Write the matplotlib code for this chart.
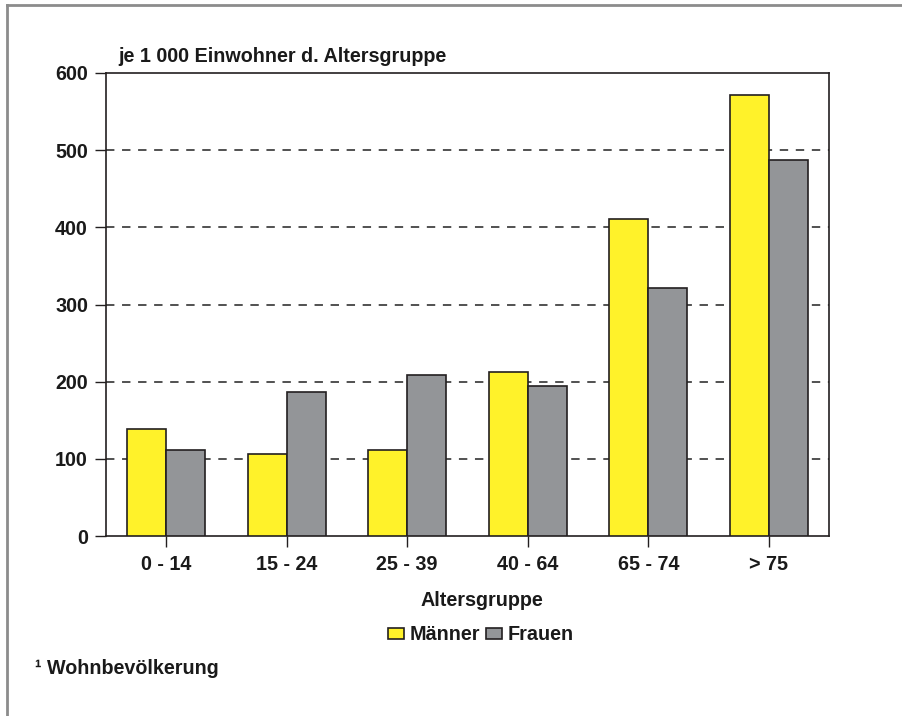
import numpy as np
import matplotlib
matplotlib.use('Agg')
import matplotlib.pyplot as plt
from matplotlib.patches import Patch
from matplotlib.lines import Line2D

plt.rcParams['font.family'] = ['Liberation Sans', 'DejaVu Sans']
plt.rcParams['font.weight'] = 'bold'

# data
groups = ['0 - 14', '15 - 24', '25 - 39', '40 - 64', '65 - 74', '> 75']
maenner = [139, 106, 112, 213, 411, 572]
frauen = [112, 187, 208, 195, 321, 487]
yticks = [0, 100, 200, 300, 400, 500, 600]

yellow = '#fff22a'
grey = '#939598'
edge = '#231f20'
txt = '#1a1a1a'
fs = 14.2

fig = plt.figure(figsize=(9.02, 7.16), dpi=100)
ax = fig.add_axes([106/902, 1 - 536/716, (829 - 106)/902, (536 - 73)/716])

x = np.arange(len(groups))
w = 0.325
ax.bar(x - w/2, maenner, w, color=yellow, edgecolor=edge, linewidth=1.2, zorder=3)
ax.bar(x + w/2, frauen, w, color=grey, edgecolor=edge, linewidth=1.2, zorder=3)

# dashed grid
for v in yticks[1:-1]:
    ax.axhline(v, color='#222222', lw=1.1, dashes=(5.5, 5), zorder=1)

ax.set_xlim(-0.5, len(groups) - 0.5)
ax.set_ylim(0, 600)
ax.set_yticks(yticks)
ax.set_yticklabels([str(v) for v in yticks], fontsize=fs, fontweight='bold', color=txt)
ax.set_xticks(x)
ax.set_xticklabels(groups, fontsize=fs, fontweight='bold', color=txt)
ax.tick_params(axis='y', length=8, width=1, pad=5, color=edge)
ax.tick_params(axis='x', length=8, width=1, pad=6, color=edge)
for s in ax.spines.values():
    s.set_linewidth(1.2)
    s.set_color(edge)

fig.text(118/902, 1 - 56/716, 'je 1 000 Einwohner d. Altersgruppe', fontsize=fs,
         fontweight='bold', va='center', ha='left', color=txt)
fig.text(482/902, 1 - 601/716, 'Altersgruppe', fontsize=fs, fontweight='bold',
         va='center', ha='center', color=txt)
fig.text(35/902, 1 - 668/716, '\u00b9 Wohnbev\u00f6lkerung', fontsize=fs,
         fontweight='bold', va='center', ha='left', color=txt)

handles = [Patch(facecolor=yellow, edgecolor=edge, linewidth=1.2, label='M\u00e4nner'),
           Patch(facecolor=grey, edgecolor=edge, linewidth=1.2, label='Frauen')]
leg = fig.legend(handles=handles, loc='center', bbox_to_anchor=(481/902, 1 - 635/716),
                 ncol=2, frameon=False, prop={'size': fs, 'weight': 'bold'},
                 handlelength=0.8, handleheight=0.55, handletextpad=0.3, columnspacing=0.3)
for t in leg.get_texts():
    t.set_color(txt)

# grey frame lines (top and left)
fig.add_artist(Line2D([7/902, 1], [1 - 5/716, 1 - 5/716], color='#8c8c8c', lw=2))
fig.add_artist(Line2D([7/902, 7/902], [0, 1 - 5/716], color='#8c8c8c', lw=2))

fig.savefig('out.png', dpi=100)
